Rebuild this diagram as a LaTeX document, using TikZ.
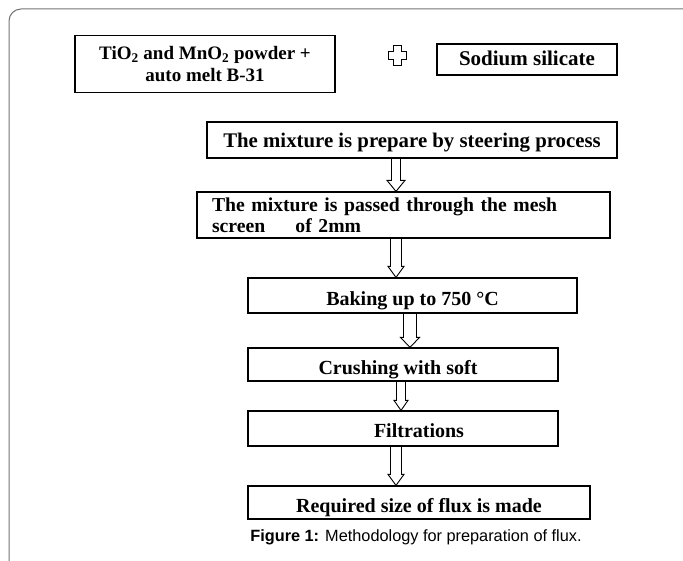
\documentclass[tikz,border=0pt]{standalone}
\usepackage{fontspec}
\setmainfont{Liberation Serif}
\newfontfamily\capfont{Liberation Sans}
\usetikzlibrary{calc}
\newcommand\hollowarrow[6]{%
  \draw[harrow] ($(#1 |- #2.south)+(-#4,0)$) -- ($(#1 |- #3.north)+(-#4,-#6)$)
    -- ($(#1 |- #3.north)+(-#5,-#6)$) -- (#1 |- #3.north)
    -- ($(#1 |- #3.north)+(#5,-#6)$) -- ($(#1 |- #3.north)+(#4,-#6)$)
    -- ($(#1 |- #2.south)+(#4,0)$);}
\begin{document}
\begin{tikzpicture}[x=1pt,y=-1pt,
  box/.style={draw=black, line width=1.2pt, inner sep=0pt,
    font=\bfseries\fontsize{20}{21}\selectfont},
  harrow/.style={draw=black, line width=0.9pt, line join=miter},
  frameline/.style={draw=black!55, line width=1pt, rounded corners=12pt},
  plusline/.style={draw=black, line width=1pt}]
\useasboundingbox (0,0) rectangle (683,561);
\draw[frameline] (9,561) -- (9,9) -- (683,9);
% top row
\node[box, minimum width=260pt, minimum height=57pt, align=center,
  font=\bfseries\fontsize{19}{22}\selectfont] (tio) at (205,64)
  {TiO\textsubscript{2} and MnO\textsubscript{2} powder +\\auto melt B-31};
\draw[plusline] (393,46) -- (401,46) -- (401,52) -- (406,52) -- (406,60) -- (401,60)
  -- (401,66) -- (393,66) -- (393,60) -- (388,60) -- (388,52) -- (393,52) -- cycle;
\node[box, minimum width=180pt, minimum height=31pt, text height=22pt, text depth=9pt,
  font=\bfseries\fontsize{21}{22}\selectfont] (sod) at (527,59.5) {Sodium silicate};
% steps
\node[box, minimum width=410pt, minimum height=36pt, text height=26pt, text depth=10pt,
  font=\bfseries\fontsize{20.8}{22}\selectfont]
  (b1) at (412,140) {The mixture is prepare by steering process};
\node[box, minimum width=413pt, minimum height=46pt, align=left, text width=383pt,
  font=\bfseries\fontsize{19.7}{21}\selectfont]
  (b2) at (403.5,215) {The mixture is passed through the mesh\\screen\hspace{1.2em} of 2mm};
\node[box, minimum width=329pt, minimum height=35pt, text height=28pt, text depth=7pt]
  (b3) at (412.5,295.5) {Baking up to 750 °C};
\node[box, minimum width=310pt, minimum height=33pt, text height=26pt, text depth=7pt]
  (b4) at (403,364.5) {Crushing with soft\hspace*{10pt}};
\node[box, minimum width=310pt, minimum height=35pt, text height=26pt, text depth=9pt]
  (b5) at (403,428.5) {\hspace*{32pt}Filtrations};
\node[box, minimum width=342pt, minimum height=33pt, text height=26pt, text depth=7pt]
  (b6) at (419,502.5) {Required size of flux is made};
\node[inner sep=0pt, anchor=base, font=\capfont\fontsize{16.3}{18}\selectfont] (cap) at (416,541)
  {\textbf{Figure 1:} Methodology for preparation of flux.};
% arrows
\coordinate (xa1) at (396,0);
\coordinate (xa2) at (396,0);
\coordinate (xa3) at (410,0);
\coordinate (xa4) at (401,0);
\coordinate (xa5) at (396,0);
\hollowarrow{xa1}{b1}{b2}{4.5}{9}{11}
\hollowarrow{xa2}{b2}{b3}{5.5}{8}{11}
\hollowarrow{xa3}{b3}{b4}{6.5}{9.5}{10}
\hollowarrow{xa4}{b4}{b5}{4.5}{7}{10}
\hollowarrow{xa5}{b5}{b6}{5.5}{8}{11}
\end{tikzpicture}
\end{document}
